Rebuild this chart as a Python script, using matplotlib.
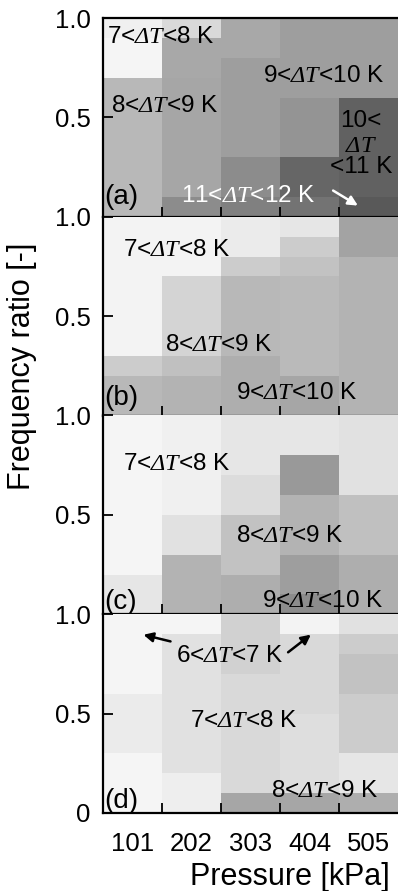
import numpy as np
import matplotlib
matplotlib.use('Agg')
import matplotlib.pyplot as plt

plt.rcParams['font.family'] = ['Liberation Sans', 'DejaVu Sans']
# the only math in the figure is the italic "ΔT", so both math fonts are serif italic
plt.rcParams['mathtext.fontset'] = 'custom'
plt.rcParams['mathtext.it'] = 'Liberation Serif:italic'
plt.rcParams['mathtext.rm'] = 'Liberation Serif:italic'

pressures = ['101', '202', '303', '404', '505']
ratio_edges = [0.0, 0.1, 0.2, 0.3, 0.4, 0.5, 0.6, 0.7, 0.8, 0.9, 1.0]

# gray level of each cell (1 = white), rows from ratio 0 up to 1, one column per pressure
gray_a = [[0.72, 0.55, 0.50, 0.45, 0.35],
          [0.72, 0.65, 0.55, 0.40, 0.38],
          [0.72, 0.65, 0.55, 0.40, 0.38],
          [0.72, 0.65, 0.62, 0.58, 0.38],
          [0.72, 0.65, 0.62, 0.58, 0.38],
          [0.72, 0.65, 0.62, 0.58, 0.38],
          [0.72, 0.65, 0.62, 0.62, 0.62],
          [0.96, 0.66, 0.62, 0.62, 0.62],
          [0.96, 0.66, 0.66, 0.62, 0.62],
          [0.94, 0.85, 0.66, 0.62, 0.62]]
gray_b = [[0.72, 0.70, 0.68, 0.65, 0.70],
          [0.72, 0.70, 0.68, 0.65, 0.70],
          [0.80, 0.75, 0.68, 0.73, 0.70],
          [0.95, 0.83, 0.72, 0.73, 0.70],
          [0.95, 0.83, 0.72, 0.73, 0.70],
          [0.95, 0.83, 0.72, 0.73, 0.70],
          [0.95, 0.83, 0.72, 0.73, 0.70],
          [0.95, 0.95, 0.80, 0.76, 0.70],
          [0.95, 0.95, 0.92, 0.80, 0.64],
          [0.95, 0.95, 0.92, 0.90, 0.64]]
gray_c = [[0.90, 0.70, 0.68, 0.55, 0.68],
          [0.90, 0.70, 0.68, 0.62, 0.68],
          [0.96, 0.70, 0.76, 0.62, 0.68],
          [0.96, 0.88, 0.76, 0.70, 0.75],
          [0.96, 0.88, 0.76, 0.70, 0.75],
          [0.96, 0.94, 0.86, 0.70, 0.75],
          [0.96, 0.94, 0.86, 0.60, 0.88],
          [0.96, 0.94, 0.90, 0.60, 0.88],
          [0.96, 0.94, 0.90, 0.90, 0.88],
          [0.96, 0.94, 0.90, 0.90, 0.88]]
gray_d = [[0.96, 0.93, 0.65, 0.65, 0.68],
          [0.96, 0.93, 0.85, 0.87, 0.90],
          [0.96, 0.88, 0.85, 0.87, 0.90],
          [0.92, 0.88, 0.85, 0.87, 0.80],
          [0.92, 0.88, 0.85, 0.87, 0.80],
          [0.92, 0.88, 0.85, 0.85, 0.80],
          [0.96, 0.88, 0.85, 0.85, 0.76],
          [0.96, 0.88, 0.82, 0.85, 0.76],
          [0.96, 0.88, 0.82, 0.85, 0.80],
          [0.96, 0.96, 0.82, 0.95, 0.88]]

panel_tags = ['(a)', '(b)', '(c)', '(d)']
tag_y = [0.10, 0.09, 0.06, 0.06]

# region labels: (text, x, y, ha, colour)
labels_a = [('7<$\\Delta T$<8 K', 0.57, 0.905, 'left', 'k'),
            ('9<$\\Delta T$<10 K', 3.22, 0.708, 'left', 'k'),
            ('8<$\\Delta T$<9 K', 0.64, 0.557, 'left', 'k'),
            ('10<', 4.87, 0.482, 'center', 'k'),
            ('$\\Delta T$', 4.87, 0.356, 'center', 'k'),
            ('<11 K', 4.87, 0.25, 'center', 'k'),
            ('11<$\\Delta T$<12 K', 1.82, 0.104, 'left', 'w')]
labels_b = [('7<$\\Delta T$<8 K', 0.84, 0.833, 'left', 'k'),
            ('8<$\\Delta T$<9 K', 1.55, 0.355, 'left', 'k'),
            ('9<$\\Delta T$<10 K', 2.75, 0.113, 'left', 'k')]
labels_c = [('7<$\\Delta T$<8 K', 0.84, 0.756, 'left', 'k'),
            ('8<$\\Delta T$<9 K', 2.75, 0.394, 'left', 'k'),
            ('9<$\\Delta T$<10 K', 3.19, 0.067, 'left', 'k')]
labels_d = [('6<$\\Delta T$<7 K', 1.74, 0.79, 'left', 'k'),
            ('7<$\\Delta T$<8 K', 1.98, 0.463, 'left', 'k'),
            ('8<$\\Delta T$<9 K', 3.35, 0.111, 'left', 'k')]

# arrows: (start, end, colour)
arrows_a = [((4.36, 0.139), (4.86, 0.049), 'w')]
arrows_d = [((1.69, 0.860), (1.14, 0.900), 'k'),
            ((3.60, 0.800), (4.06, 0.906), 'k')]

grays = [gray_a, gray_b, gray_c, gray_d]
labels = [labels_a, labels_b, labels_c, labels_d]
arrows = [arrows_a, [], [], arrows_d]

W, H = 398, 891
fig = plt.figure(figsize=(W / 100, H / 100), dpi=100)

left, top, ph = 103, 18, 198.75
x_edges = np.arange(len(pressures) + 1) + 0.5

for i in range(4):
    y0 = H - (top + (i + 1) * ph)
    ax = fig.add_axes([left / W, y0 / H, (W - left) / W, ph / H])
    g = np.array(grays[i])
    ax.pcolormesh(x_edges, ratio_edges, g, cmap='gray', vmin=0, vmax=1,
                  shading='flat', rasterized=True)
    ax.set_xlim(0.5, 5.5)
    ax.set_ylim(0, 1)

    for s in ['left', 'bottom', 'top']:
        ax.spines[s].set_linewidth(1.6)
    ax.spines['right'].set_visible(False)
    if i > 0:
        ax.spines['top'].set_visible(False)

    ax.set_xticks(np.arange(1, 6))
    ax.set_xticks(x_edges[1:-1], minor=True)
    ax.tick_params(axis='x', which='major', length=0, pad=14, labelsize=18.5)
    ax.tick_params(axis='x', which='minor', direction='in', length=7, width=1.3)
    if i == 3:
        ax.set_xticklabels(pressures)
        ax.set_yticks([0, 0.5, 1.0])
        ax.set_yticklabels(['0', '0.5', '1.0'])
    else:
        ax.set_xticklabels([])
        ax.set_yticks([0.5, 1.0])
        ax.set_yticklabels(['0.5', '1.0'])
    ax.tick_params(axis='y', direction='in', length=7, width=1.3, pad=9,
                   labelsize=18.5)

    ax.text(0.52, tag_y[i], panel_tags[i], fontsize=20, ha='left', va='center')
    for txt, x, y, ha, c in labels[i]:
        ax.text(x, y, txt, fontsize=17.5, ha=ha, va='center', color=c)
    for (xs, ys), (xe, ye), c in arrows[i]:
        ax.annotate('', xy=(xe, ye), xytext=(xs, ys),
                    arrowprops=dict(arrowstyle='-|>', color=c, lw=1.8,
                                    mutation_scale=14))

fig.text(290 / W, 1 - 877 / H, 'Pressure [kPa]', fontsize=22,
         ha='center', va='center')
fig.text(22 / W, 1 - 366 / H, 'Frequency ratio [-]', fontsize=22,
         ha='center', va='center', rotation=90)

fig.savefig('out.png', dpi=100)
